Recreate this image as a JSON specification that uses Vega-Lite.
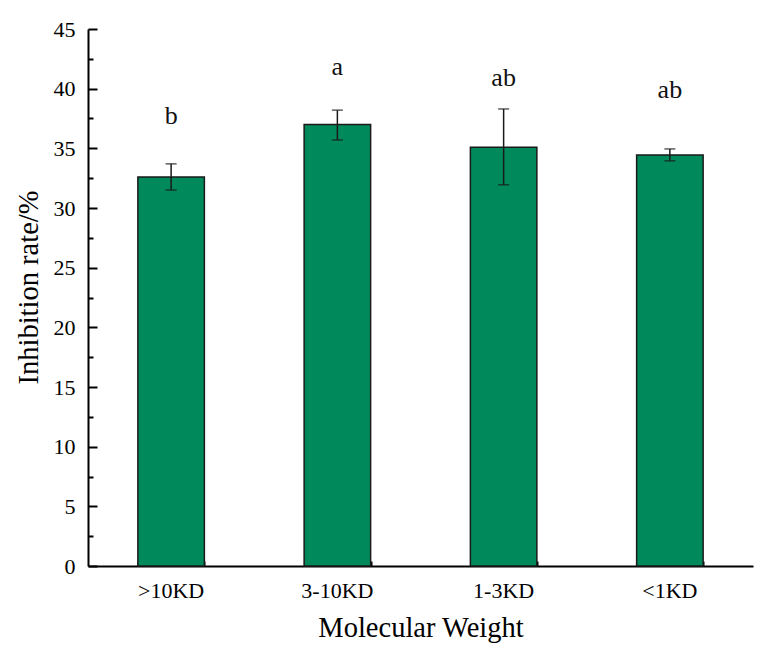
{
  "$schema": "https://vega.github.io/schema/vega-lite/v6.json",
  "autosize": {"type": "none"},
  "width": 665,
  "height": 537,
  "padding": {"left": 88, "top": 29, "right": 12, "bottom": 82},
  "background": "white",
  "config": {
    "view": {"stroke": null},
    "font": "Liberation Serif",
    "axis": {"grid": false, "domainColor": "black", "tickColor": "black", "labelColor": "black", "titleColor": "black", "labelFont": "Liberation Serif", "titleFont": "Liberation Serif", "titleFontWeight": "normal"}
  },
  "data": {
    "values": [
      {"group": ">10KD", "mean": 32.6, "lo": 31.5, "hi": 33.7, "letter": "b", "labelY": 37.7},
      {"group": "3-10KD", "mean": 37.0, "lo": 35.7, "hi": 38.2, "letter": "a", "labelY": 41.85},
      {"group": "1-3KD", "mean": 35.1, "lo": 31.95, "hi": 38.3, "letter": "ab", "labelY": 40.9},
      {"group": "<1KD", "mean": 34.45, "lo": 33.95, "hi": 34.95, "letter": "ab", "labelY": 39.9}
    ]
  },
  "layer": [
    {
      "mark": {"type": "bar", "color": "#00895a", "stroke": "#1a1a1a", "strokeWidth": 1.5},
      "encoding": {
        "x": {
          "field": "group", "type": "nominal", "sort": null,
          "scale": {"paddingInner": 0.6, "paddingOuter": 0.3},
          "axis": {"orient": "bottom", "title": "Molecular Weight", "labelAngle": 0, "labelFontSize": 22, "titleFontSize": 28.5, "domainWidth": 2, "tickWidth": 2, "tickSize": -9, "labelPadding": 23, "titlePadding": 12}
        },
        "y": {
          "field": "mean", "type": "quantitative",
          "scale": {"domain": [0, 45], "nice": false, "zero": true},
          "axis": {"orient": "left", "title": "Inhibition rate/%", "values": [0, 5, 10, 15, 20, 25, 30, 35, 40, 45], "labelFontSize": 22, "titleFontSize": 28.5, "domainWidth": 2, "tickWidth": 2, "tickSize": -9, "labelPadding": 22, "titlePadding": 10, "titleY": 258}
        }
      }
    },
    {
      "mark": {"type": "rule", "color": "#1a1a1a", "strokeWidth": 1.5},
      "encoding": {
        "x": {
          "field": "group", "type": "nominal", "sort": null,
          "axis": {"orient": "bottom", "title": null, "labels": false, "domain": false, "tickBand": "extent", "tickWidth": 2, "tickSize": -5}
        },
        "y": {
          "field": "lo", "type": "quantitative",
          "axis": {"orient": "left", "title": null, "labels": false, "domain": false, "values": [2.5, 7.5, 12.5, 17.5, 22.5, 27.5, 32.5, 37.5, 42.5], "tickWidth": 2, "tickSize": -5}
        },
        "y2": {"field": "hi"}
      }
    },
    {
      "mark": {"type": "tick", "color": "#1a1a1a", "size": 11, "thickness": 1.5},
      "encoding": {
        "x": {"field": "group", "type": "nominal", "sort": null, "axis": null},
        "y": {"field": "lo", "type": "quantitative", "axis": null}
      }
    },
    {
      "mark": {"type": "tick", "color": "#1a1a1a", "size": 11, "thickness": 1.5},
      "encoding": {
        "x": {"field": "group", "type": "nominal", "sort": null, "axis": null},
        "y": {"field": "hi", "type": "quantitative", "axis": null}
      }
    },
    {
      "mark": {"type": "text", "font": "Liberation Serif", "fontSize": 26, "color": "#111", "baseline": "middle", "align": "center"},
      "encoding": {
        "x": {"field": "group", "type": "nominal", "sort": null, "axis": null},
        "y": {"field": "labelY", "type": "quantitative", "axis": null},
        "text": {"field": "letter"}
      }
    }
  ],
  "resolve": {"axis": {"x": "independent", "y": "independent"}}
}
